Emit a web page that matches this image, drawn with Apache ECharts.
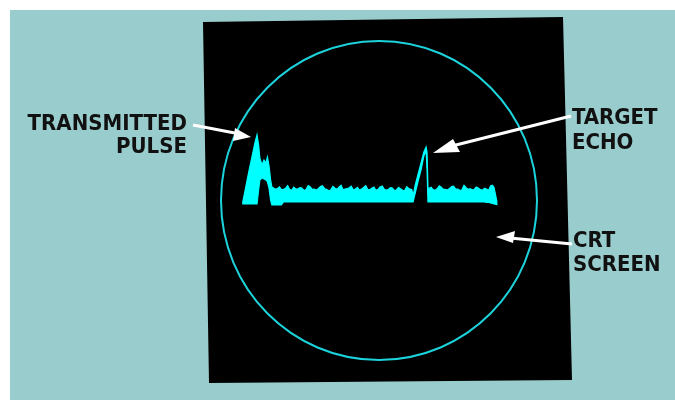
<!DOCTYPE html>
<html>
<head>
<meta charset="utf-8">
<script src="https://cdn.jsdelivr.net/npm/echarts@6/dist/echarts.min.js"></script>
<style>
  html, body { margin: 0; padding: 0; background: #ffffff; }
  #main { width: 675px; height: 402px; }
</style>
</head>
<body>
<div id="main"></div>
<script>
// sweep time (arbitrary units, 0..100 across the screen)
var sweepTime = [
    6.9, 7.9, 8.9, 9.8, 10.8, 11.4, 11.9, 12.3, 13.0, 13.6, 14.2, 14.7, 15.2, 15.7, 16.1,
    16.5, 17.2, 17.8, 18.5, 19.1, 19.8, 20.4, 21.1, 21.7, 22.4, 23.0, 23.7, 24.3, 25.0, 25.6,
    26.3, 26.9, 27.6, 28.2, 28.9, 29.5, 30.2, 30.8, 31.5, 32.1, 32.8, 33.4, 34.1, 34.7, 35.4,
    36.0, 36.7, 37.3, 38.0, 38.6, 39.3, 39.9, 40.6, 41.2, 41.9, 42.5, 43.2, 43.8, 44.5, 45.1,
    45.8, 46.4, 47.1, 47.7, 48.4, 49.0, 49.7, 50.3, 51.0, 51.6, 52.3, 52.9, 53.6, 54.2, 54.9,
    55.5, 56.2, 56.8, 57.5, 58.1, 58.8, 59.4, 60.4,
    60.8, 61.4, 62.3, 63.3, 64.2, 64.9, 65.2, 65.5,
    65.8, 66.5, 67.1, 67.8, 68.4, 69.1, 69.7, 70.4, 71.0, 71.7, 72.3, 73.0, 73.6, 74.3, 74.9,
    75.6, 76.2, 76.9, 77.5, 78.2, 78.8, 79.5, 80.1, 80.8, 81.4, 82.1, 82.7, 83.4, 84.0, 84.7,
    85.3, 85.9, 86.4, 87.3
];
// top of the trace (amplitude)
var traceTop = [
    -0.9, 9.1, 19.1, 27.3, 36.7, 41.1, 34.8, 26.6, 22.3, 25.4, 23.5, 27.3, 21.6, 12.9, 8.5,
    8.0, 7.1, 7.4, 8.6, 6.8, 7.0, 7.6, 9.4, 7.0, 6.4, 8.4, 7.3, 7.2, 8.1, 7.8,
    6.2, 6.9, 9.3, 8.6, 7.0, 7.1, 6.5, 7.5, 8.8, 9.2, 7.4, 7.0, 6.1, 6.6, 8.9,
    7.9, 7.0, 8.3, 9.6, 6.8, 7.2, 7.4, 8.0, 9.0, 6.6, 7.2, 8.2, 6.5, 7.1, 8.1,
    9.3, 7.0, 6.8, 7.7, 8.4, 6.4, 7.0, 8.5, 9.1, 7.1, 6.5, 6.9, 8.0, 7.8, 6.3,
    6.6, 8.2, 7.3, 6.4, 6.2, 8.6, 7.5, 6.8,
    2.8, 9.1, 16.0, 23.5, 30.4, 33.5, 30.4, 7.8,
    7.6, 8.3, 6.8, 6.5, 7.3, 9.2, 8.4, 7.0, 7.0, 6.6, 7.6, 8.7, 9.0, 7.1, 7.2,
    6.4, 6.6, 9.5, 8.2, 7.0, 7.4, 6.7, 6.9, 8.4, 7.8, 6.8, 6.5, 7.7, 7.2, 6.4,
    9.1, 9.6, 8.2, -0.5
];
// bottom of the trace (amplitude)
var traceBottom = [
    -2.2, -2.2, -2.2, -2.2, -2.2, -2.2, 6.6, 12.9, 14.1, 13.5, 12.9, 11.6, 7.8, 0.3, -2.8,
    -2.8, -2.8, -2.8, -2.8, -2.8, -0.9, -0.9, -0.9, -0.9, -0.9, -0.9, -0.9, -0.9, -0.9, -0.9,
    -0.9, -0.9, -0.9, -0.9, -0.9, -0.9, -0.9, -0.9, -0.9, -0.9, -0.9, -0.9, -0.9, -0.9, -0.9,
    -0.9, -0.9, -0.9, -0.9, -0.9, -0.9, -0.9, -0.9, -0.9, -0.9, -0.9, -0.9, -0.9, -0.9, -0.9,
    -0.9, -0.9, -0.9, -0.9, -0.9, -0.9, -0.9, -0.9, -0.9, -0.9, -0.9, -0.9, -0.9, -0.9, -0.9,
    -0.9, -0.9, -0.9, -0.9, -0.9, -0.9, -0.9, -0.9,
    -0.9, 4.1, 11.6, 19.1, 27.9, 31.7, 19.1, -0.9,
    -0.9, -0.9, -0.9, -0.9, -0.9, -0.9, -0.9, -0.9, -0.9, -0.9, -0.9, -0.9, -0.9, -0.9, -0.9,
    -0.9, -0.9, -0.9, -0.9, -0.9, -0.9, -0.9, -0.9, -0.9, -0.9, -0.9, -0.9, -0.9, -1.2, -1.2,
    -1.5, -1.8, -2.2, -2.5
];

var labelFont = 'bold 22px "DejaVu Sans Condensed", "DejaVu Sans", sans-serif';

var traceData = [];
for (var i = 0; i < sweepTime.length; i++) {
    traceData.push([sweepTime[i], traceTop[i], traceBottom[i]]);
}

// the whole trace is one filled band: top edge left to right, bottom edge back
function renderTrace(params, api) {
    if (params.dataIndex !== 0) return;
    var pts = [];
    for (var j = 0; j < sweepTime.length; j++) {
        pts.push(api.coord([sweepTime[j], traceTop[j]]));
    }
    for (var k = sweepTime.length - 1; k >= 0; k--) {
        pts.push(api.coord([sweepTime[k], traceBottom[k]]));
    }
    return {
        type: 'polygon',
        shape: { points: pts },
        style: { fill: '#00ffff', stroke: '#00ffff', lineWidth: 1.2 }
    };
}

function label(text, x, y, align) {
    return {
        type: 'text', z: 20, x: x, y: y,
        style: { text: text, font: labelFont, fill: '#111111', align: align, verticalAlign: 'middle' }
    };
}

var myChart = echarts.init(document.getElementById('main'));
var option = {
    animation: false,
    backgroundColor: '#ffffff',
    grid: { left: 221, top: 41, width: 316, height: 319, containLabel: false },
    xAxis: { type: 'value', min: 0, max: 100, show: false },
    yAxis: { type: 'value', min: -100, max: 100, show: false },
    graphic: [
        { type: 'rect', z: 0, shape: { x: 10, y: 10, width: 665, height: 390 }, style: { fill: '#99cccc' } },
        { type: 'polygon', z: 0, shape: { points: [[203, 22], [563, 17], [572, 380], [209, 383]] }, style: { fill: '#000000' } },
        { type: 'ellipse', z: 1, shape: { cx: 379, cy: 200.5, rx: 158, ry: 159.5 }, style: { fill: null, stroke: '#1cd3dc', lineWidth: 2 } },
        // TRANSMITTED PULSE arrow
        { type: 'line', z: 10, shape: { x1: 193, y1: 125, x2: 240, y2: 134 }, style: { stroke: '#ffffff', lineWidth: 3 } },
        { type: 'polygon', z: 10, shape: { points: [[251, 137], [235, 128], [233, 141]] }, style: { fill: '#ffffff' } },
        // TARGET ECHO arrow
        { type: 'line', z: 10, shape: { x1: 571, y1: 116, x2: 452, y2: 146 }, style: { stroke: '#ffffff', lineWidth: 3 } },
        { type: 'polygon', z: 10, shape: { points: [[433, 153], [453, 139], [460, 152]] }, style: { fill: '#ffffff' } },
        // CRT SCREEN arrow
        { type: 'line', z: 10, shape: { x1: 572, y1: 244, x2: 510, y2: 238 }, style: { stroke: '#ffffff', lineWidth: 3 } },
        { type: 'polygon', z: 10, shape: { points: [[496, 237], [515, 231], [513, 243]] }, style: { fill: '#ffffff' } },
        label('TRANSMITTED', 187, 124, 'right'),
        label('PULSE', 187, 147, 'right'),
        label('TARGET', 572, 118, 'left'),
        label('ECHO', 572, 143, 'left'),
        label('CRT', 573, 241, 'left'),
        label('SCREEN', 573, 265, 'left')
    ],
    series: [
        {
            name: 'A-scope trace', type: 'custom', data: traceData,
            renderItem: renderTrace, silent: true,
            encode: { x: 0, y: [1, 2] }
        }
    ]
};
myChart.setOption(option);
</script>
</body>
</html>
